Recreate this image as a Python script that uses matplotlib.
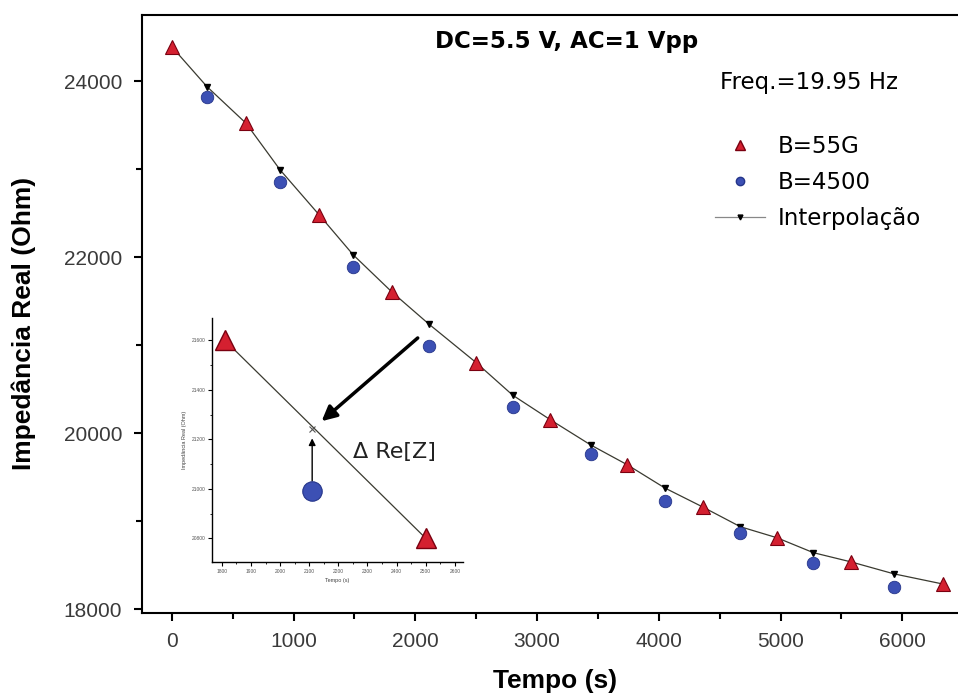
import matplotlib
matplotlib.use("Agg")
import matplotlib.pyplot as plt
import numpy as np
from matplotlib.ticker import MultipleLocator
from matplotlib.lines import Line2D

plt.rcParams['font.family'] = ['Liberation Sans', 'DejaVu Sans']

# ---- data ----
t_red = [0, 610, 1210, 1810, 2500, 3110, 3740, 4360, 4970, 5580, 6330]
z_red = [24390, 23520, 22480, 21600, 20800, 20150, 19640, 19160, 18810, 18535, 18285]

t_blue = [290, 890, 1490, 2110, 2800, 3440, 4050, 4670, 5270, 5930]
z_blue = [23820, 22850, 21890, 20990, 20300, 19760, 19230, 18865, 18525, 18250]

z_interp = [23935, 22990, 22025, 21240, 20430, 19865, 19375, 18935, 18640, 18400]

xticks = [0, 1000, 2000, 3000, 4000, 5000, 6000]
yticks = [18000, 20000, 22000, 24000]
inset_xticks = [1800, 1900, 2000, 2100, 2200, 2300, 2400, 2500, 2600]
inset_yticks = [20800, 21000, 21200, 21400, 21600]

red_c = '#d42030'
red_e = '#7a0010'
blue_c = '#3c50b4'
blue_e = '#25358a'
line_c = '#3a3a30'
tick_c = '#3a3a3a'
wide = ['DejaVu Sans']

fig = plt.figure(figsize=(9.58, 6.98), dpi=100)
ax = fig.add_axes([0.148, 0.1218, 0.86, 0.8567])

# interpolation line through red points and interpolated points
t_all = np.array(t_red + t_blue)
z_all = np.array(z_red + z_interp)
order = np.argsort(t_all)
ax.plot(t_all[order], z_all[order], color=line_c, lw=0.9, zorder=2)
ax.plot(t_blue, z_interp, linestyle='none', marker='v', ms=4, color='black', zorder=3)
ax.plot(t_red, z_red, linestyle='none', marker='^', ms=10, mfc=red_c, mec=red_e, mew=0.8, zorder=4)
ax.plot(t_blue, z_blue, linestyle='none', marker='o', ms=9, mfc=blue_c, mec=blue_e, mew=0.6, zorder=4)

ax.set_xlim(-246, 6520)
ax.set_ylim(17955, 24750)
ax.set_xticks(xticks)
ax.set_yticks(yticks)
ax.xaxis.set_minor_locator(MultipleLocator(500))
ax.yaxis.set_minor_locator(MultipleLocator(1000))
ax.tick_params(axis='both', which='major', direction='out', length=6, width=1.5,
               labelsize=15, labelcolor=tick_c, pad=8)
ax.tick_params(axis='both', which='minor', direction='out', length=4, width=1.5)
ax.spines['right'].set_visible(False)
for s in ['left', 'bottom', 'top']:
    ax.spines[s].set_linewidth(1.5)

ax.set_xlabel('Tempo (s)', fontsize=19, fontweight='bold')
ax.xaxis.set_label_coords(0.502, -0.094)
ax.set_ylabel('Impedância Real (Ohm)', fontsize=19, fontweight='bold')
ax.yaxis.set_label_coords(-0.129, 0.485)

fig.text(0.591, 0.94, 'DC=5.5 V, AC=1 Vpp', fontsize=16.5, fontweight='bold',
         ha='center', va='center', family=wide)
fig.text(0.752, 0.882, 'Freq.=19.95 Hz', fontsize=16.5, ha='left', va='center', family=wide)

handles = [
    Line2D([], [], linestyle='none', marker='^', ms=7, mfc=red_c, mec=red_e),
    Line2D([], [], linestyle='none', marker='o', ms=6, mfc=blue_c, mec=blue_e),
    Line2D([], [], color='#888888', lw=0.9, marker='v', ms=3.5, mfc='black', mec='black'),
]
labels = ['B=55G', 'B=4500', 'Interpolação']
fig.legend(handles, labels, loc='upper left', bbox_to_anchor=(0.746, 0.8066),
           frameon=False, handlelength=2.2, handletextpad=0.55,
           labelspacing=0.56, borderaxespad=0, borderpad=0,
           prop={'family': wide, 'size': 16.5})

# ---- inset ----
ins = fig.add_axes([0.2213, 0.1948, 0.262, 0.3496])
ins.plot([t_red[3], t_red[4]], [z_red[3], z_red[4]], color=line_c, lw=0.9, zorder=2)
ins.plot([t_blue[3]], [z_interp[3]], marker='x', ms=4, color='#555555', mew=0.8, zorder=3)
ins.plot([t_red[3], t_red[4]], [z_red[3], z_red[4]], linestyle='none', marker='^', ms=15,
         mfc=red_c, mec=red_e, mew=1.0, zorder=4)
ins.plot([t_blue[3]], [z_blue[3]], linestyle='none', marker='o', ms=14,
         mfc=blue_c, mec=blue_e, mew=0.8, zorder=4)
ins.annotate('', xy=(t_blue[3], z_interp[3] - 25), xytext=(t_blue[3], z_blue[3] + 30),
             xycoords='data', textcoords='data',
             arrowprops=dict(arrowstyle='-|>', color='black', lw=1.0, mutation_scale=10),
             zorder=3)
ins.text(2250, 21150, 'Δ Re[Z]', fontsize=16, ha='left', va='center', color='#222222',
         family=wide)

ins.set_xlim(1766, 2628)
ins.set_ylim(20704, 21690)
ins.set_xticks(inset_xticks)
ins.set_yticks(inset_yticks)
ins.xaxis.set_minor_locator(MultipleLocator(50))
ins.yaxis.set_minor_locator(MultipleLocator(100))
ins.tick_params(axis='both', which='major', direction='out', length=3, width=0.8,
                labelsize=3.5, labelcolor='#555555', pad=2)
ins.tick_params(axis='both', which='minor', direction='out', length=1.5, width=0.6)
ins.spines['right'].set_visible(False)
ins.spines['top'].set_visible(False)
ins.spines['left'].set_linewidth(1.0)
ins.spines['bottom'].set_linewidth(1.0)
ins.patch.set_alpha(0.0)
ins.set_xlabel('Tempo (s)', fontsize=4, color='#444444', labelpad=3)
ins.set_ylabel('Impedância Real (Ohm)', fontsize=4, color='#444444', labelpad=3)

# big arrow from main curve to inset point
ins.annotate('', xy=(t_blue[3], z_interp[3]), xycoords='data',
             xytext=(2020, 21080), textcoords=ax.transData,
             arrowprops=dict(arrowstyle='-|>', color='black', lw=2.5,
                             mutation_scale=22, shrinkA=0, shrinkB=9),
             zorder=10)

fig.savefig('out.png', dpi=100)
